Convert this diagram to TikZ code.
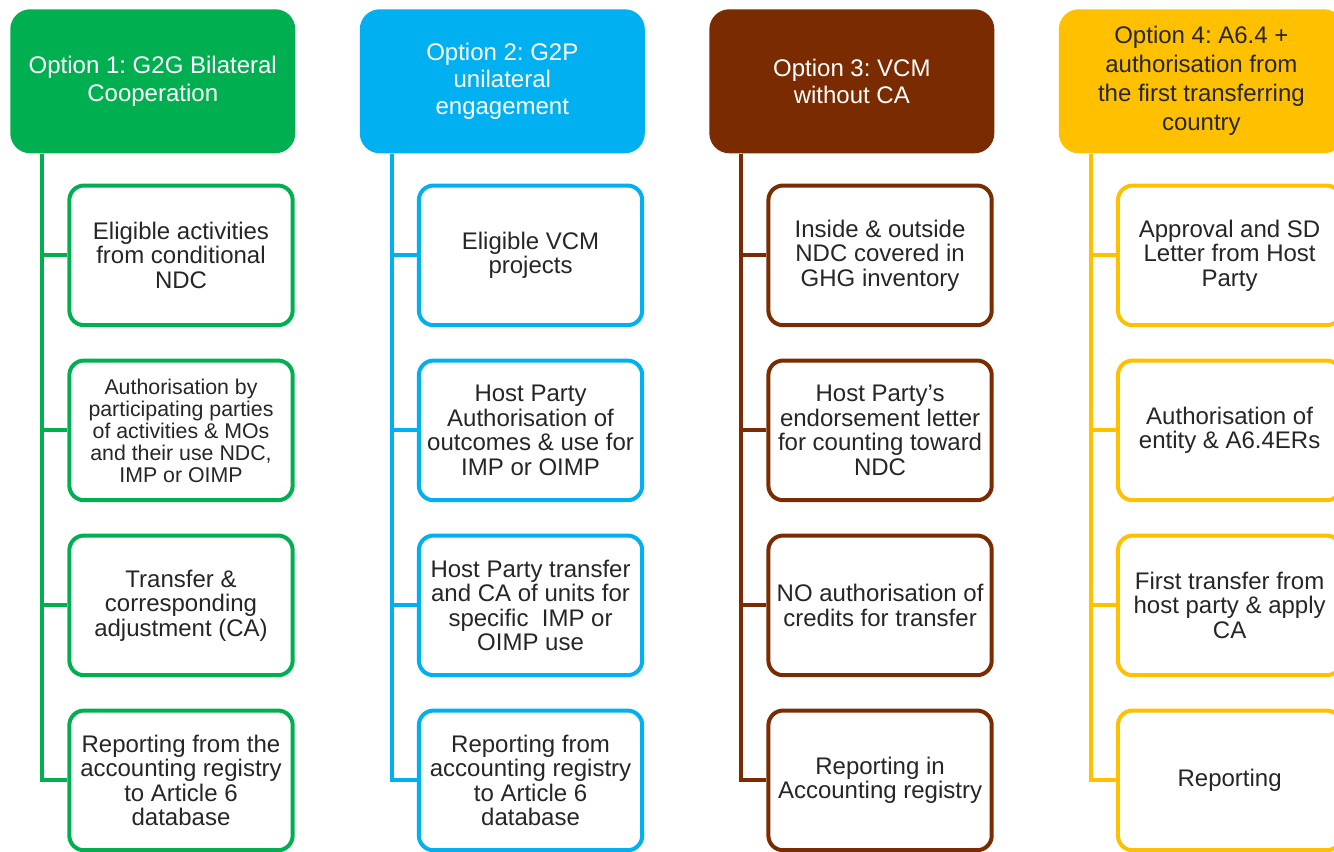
\documentclass[tikz,border=0pt]{standalone}
\usepackage{fontspec}
\setmainfont{Liberation Sans}
\usetikzlibrary{positioning}
\definecolor{optgreen}{HTML}{00B050}
\definecolor{optblue}{HTML}{00B0F0}
\definecolor{optbrown}{HTML}{7A2C00}
\definecolor{optyellow}{HTML}{FFC000}
\definecolor{txtdark}{HTML}{262626}
\frenchspacing

\begin{document}
\begin{tikzpicture}[
    node distance=23.5pt,
    every node/.style={align=center, font=\fontsize{18}{18.4}\selectfont, text=txtdark},
    header/.style={rectangle, rounded corners=15pt, fill=#1, minimum width=213.75pt, minimum height=108pt, inner sep=2pt, font=\fontsize{18}{20.5}\selectfont},
    item/.style={draw=#1, rectangle, rounded corners=11pt, line width=3pt, fill=white, minimum width=167.5pt, minimum height=104.75pt, inner sep=1pt},
    trunk/.style={draw=#1, line width=3pt}
]
\useasboundingbox (0,0) rectangle (1000.5pt,-638.25pt);
\clip (0,0) rectangle (1000.5pt,-638.25pt);

% Column 1: G2G
\node[header=optgreen, text=white, anchor=north west] (opt1) at (7.5pt,-6.75pt) {Option 1: G2G Bilateral\\Cooperation};
\node[item=optgreen, below=22.5pt of opt1.south west, anchor=north west, xshift=43pt] (g2ga) {Eligible activities\\from conditional\\NDC};
\node[item=optgreen, below=of g2ga, font=\fontsize{16}{16.5}\selectfont] (g2gb) {Authorisation by\\participating parties\\of activities \& MOs\\and their use NDC,\\IMP or OIMP};
\node[item=optgreen, below=of g2gb] (g2gc) {Transfer \&\\corresponding\\adjustment (CA)};
\node[item=optgreen, below=of g2gc] (g2gd) {Reporting from the\\accounting registry\\to Article 6\\database};

% Column 2: G2P
\node[header=optblue, text=white, right=48pt of opt1] (opt2) {Option 2: G2P\\unilateral\\engagement};
\node[item=optblue, below=22.5pt of opt2.south west, anchor=north west, xshift=43pt] (g2pa) {Eligible VCM\\projects};
\node[item=optblue, below=of g2pa] (g2pb) {Host Party\\Authorisation of\\outcomes \& use for\\IMP or OIMP};
\node[item=optblue, below=of g2pb] (g2pc) {Host Party transfer\\and CA of units for\\specific\ \ IMP or\\OIMP use};
\node[item=optblue, below=of g2pc] (g2pd) {Reporting from\\accounting registry\\to Article 6\\database};

% Column 3: VCM
\node[header=optbrown, text=white, right=48pt of opt2] (opt3) {Option 3: VCM\\without CA};
\node[item=optbrown, below=22.5pt of opt3.south west, anchor=north west, xshift=43pt] (vcma) {Inside \& outside\\NDC covered in\\GHG inventory};
\node[item=optbrown, below=of vcma] (vcmb) {Host Party’s\\endorsement letter\\for counting toward\\NDC};
\node[item=optbrown, below=of vcmb] (vcmc) {NO authorisation of\\credits for transfer};
\node[item=optbrown, below=of vcmc] (vcmd) {Reporting in\\Accounting registry};

% Column 4: A6.4
\node[header=optyellow, right=48pt of opt3, font=\fontsize{18}{21.75}\selectfont] (opt4) {Option 4: A6.4 +\\authorisation from\\the first transferring\\country};
\node[item=optyellow, below=22.5pt of opt4.south west, anchor=north west, xshift=43pt] (a64a) {Approval and SD\\Letter from Host\\Party};
\node[item=optyellow, below=of a64a] (a64b) {Authorisation of\\entity \& A6.4ERs};
\node[item=optyellow, below=of a64b] (a64c) {First transfer from\\host party \& apply\\CA};
\node[item=optyellow, below=of a64c] (a64d) {Reporting};

% Trunk lines from each header to its items
\foreach \c in {a,b,c,d}
{
    \draw[trunk=optgreen] ([xshift=24pt]opt1.south west) |- (g2g\c.west);
    \draw[trunk=optblue] ([xshift=24pt]opt2.south west) |- (g2p\c.west);
    \draw[trunk=optbrown] ([xshift=24pt]opt3.south west) |- (vcm\c.west);
    \draw[trunk=optyellow] ([xshift=24pt]opt4.south west) |- (a64\c.west);
}

\end{tikzpicture}
\end{document}
